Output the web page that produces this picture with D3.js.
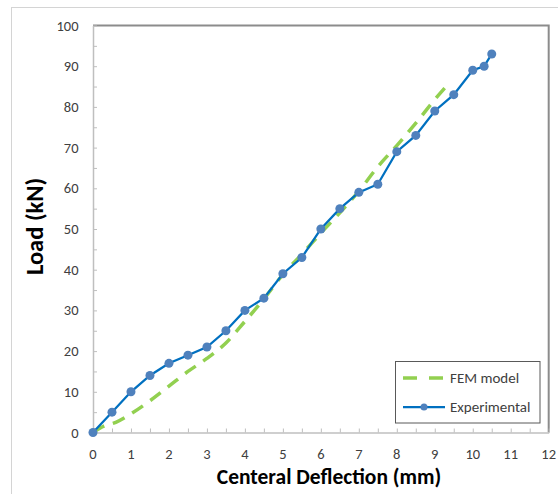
<!DOCTYPE html>
<html>
<head>
<meta charset="utf-8">
<script src="https://cdn.jsdelivr.net/npm/d3@7"></script>
<style>
  html, body { margin: 0; padding: 0; background: #fff; }
  svg { display: block; }
  text { font-family: Carlito, Calibri, Lato, "Open Sans", sans-serif; }
</style>
</head>
<body>
<svg id="chart" width="558" height="494"></svg>
<script>
// Load–deflection data (deflection in mm, load in kN)
const expDeflection = [0, 0.5, 1, 1.5, 2, 2.5, 3, 3.5, 4, 4.5, 5, 5.5, 6, 6.5, 7, 7.5, 8, 8.5, 9, 9.5, 10, 10.3, 10.5];
const expLoad       = [0, 5, 10, 14, 17, 19, 21, 25, 30, 33, 39, 43, 50, 55, 59, 61, 69, 73, 79, 83, 89, 90, 93];

const femDeflection = [0, 0.25, 0.6, 1, 1.5, 2, 2.5, 3, 3.5, 4, 4.5, 5, 5.5, 6, 6.5, 7, 7.5, 8, 8.5, 9, 9.3];
const femLoad       = [0, 1.4, 2.5, 4.6, 7.8, 11.4, 15.0, 18.2, 22.0, 27.3, 32.8, 38.8, 43.8, 49.0, 54.0, 59.3, 65.3, 70.5, 76.0, 81.8, 85.0];

const xTicks = [0, 1, 2, 3, 4, 5, 6, 7, 8, 9, 10, 11, 12];
const yTicks = [0, 10, 20, 30, 40, 50, 60, 70, 80, 90, 100];

const seriesNames = ["FEM model", "Experimental"];

const svg = d3.select("#chart");

// chart-area frame
svg.append("rect")
  .attr("x", 11.5).attr("y", 7.5)
  .attr("width", 600).attr("height", 600)
  .attr("fill", "#fff").attr("stroke", "#d4d4d4").attr("stroke-width", 1);

const plot = { left: 93, right: 548.7, top: 25.5, bottom: 432.5 };

const x = d3.scaleLinear().domain([0, 12]).range([plot.left, plot.right]);
const y = d3.scaleLinear().domain([0, 100]).range([plot.bottom, plot.top]);

// plot-area border (top/right darker)
svg.append("path")
  .attr("d", `M${plot.left},${plot.top}H${plot.right}V${plot.bottom}`)
  .attr("fill", "none").attr("stroke", "#8c8c8c").attr("stroke-width", 2);

// minor + major ticks pointing inward
const xMinor = d3.range(0, 12.001, 0.5);
const yMinor = d3.range(0, 100.001, 5);

const xAxis = svg.append("g").attr("transform", `translate(0,${plot.bottom})`)
  .call(d3.axisBottom(x).tickValues(xMinor).tickSizeInner(-4).tickSizeOuter(0).tickFormat(""));
const yAxis = svg.append("g").attr("transform", `translate(${plot.left},0)`)
  .call(d3.axisLeft(y).tickValues(yMinor).tickSizeInner(-4).tickSizeOuter(0).tickFormat(""));
[xAxis, yAxis].forEach(g => {
  g.select(".domain").attr("stroke", "#bfbfbf").attr("stroke-width", 1.5);
  g.selectAll(".tick line").attr("stroke", "#bfbfbf").attr("stroke-width", 1);
});

// tick labels
svg.append("g").selectAll("text").data(xTicks).join("text")
  .attr("x", d => x(d)).attr("y", 458.5)
  .attr("text-anchor", "middle")
  .attr("font-size", 14.5).attr("fill", "#404040")
  .text(d => d);

svg.append("g").selectAll("text").data(yTicks).join("text")
  .attr("x", 78.5).attr("y", d => y(d) + 5)
  .attr("text-anchor", "end")
  .attr("font-size", 14.5).attr("fill", "#404040")
  .text(d => d);

// axis titles
svg.append("text")
  .attr("x", 329).attr("y", 484)
  .attr("text-anchor", "middle")
  .attr("font-size", 21.5).attr("font-weight", "bold").attr("fill", "#000")
  .text("Centeral Deflection (mm)");

svg.append("text")
  .attr("transform", "translate(43,226.5) rotate(-90)")
  .attr("text-anchor", "middle")
  .attr("font-size", 24.5).attr("font-weight", "bold").attr("fill", "#000")
  .text("Load (kN)");

// FEM model curve
const fem = femDeflection.map((d, i) => [d, femLoad[i]]);
const exp = expDeflection.map((d, i) => [d, expLoad[i]]);

const line = d3.line().x(d => x(d[0])).y(d => y(d[1]));

svg.append("path")
  .datum(fem)
  .attr("d", line.curve(d3.curveMonotoneX))
  .attr("fill", "none")
  .attr("stroke", "#92d050").attr("stroke-width", 3.5)
  .attr("stroke-dasharray", "13,9");

// experimental series
svg.append("path")
  .datum(exp)
  .attr("d", d3.line().x(d => x(d[0])).y(d => y(d[1])))
  .attr("fill", "none")
  .attr("stroke", "#0070c0").attr("stroke-width", 2.25);

svg.append("g").selectAll("circle").data(exp).join("circle")
  .attr("cx", d => x(d[0])).attr("cy", d => y(d[1]))
  .attr("r", 4.5).attr("fill", "#4f81bd");

// legend
const lg = svg.append("g");
lg.append("rect")
  .attr("x", 395.5).attr("y", 361.5).attr("width", 144.5).attr("height", 61.5)
  .attr("fill", "#fff").attr("stroke", "#595959").attr("stroke-width", 1);

lg.append("line")
  .attr("x1", 403).attr("x2", 444).attr("y1", 378).attr("y2", 378)
  .attr("stroke", "#92d050").attr("stroke-width", 3.5)
  .attr("stroke-dasharray", "14,12");
lg.append("text").attr("x", 450).attr("y", 383)
  .attr("font-size", 15).attr("fill", "#404040").text(seriesNames[0]);

lg.append("line")
  .attr("x1", 403).attr("x2", 445).attr("y1", 407).attr("y2", 407)
  .attr("stroke", "#0070c0").attr("stroke-width", 2.25);
lg.append("circle").attr("cx", 424).attr("cy", 407).attr("r", 3.5).attr("fill", "#4f81bd");
lg.append("text").attr("x", 450).attr("y", 412)
  .attr("font-size", 15).attr("fill", "#404040").text(seriesNames[1]);
</script>
</body>
</html>
